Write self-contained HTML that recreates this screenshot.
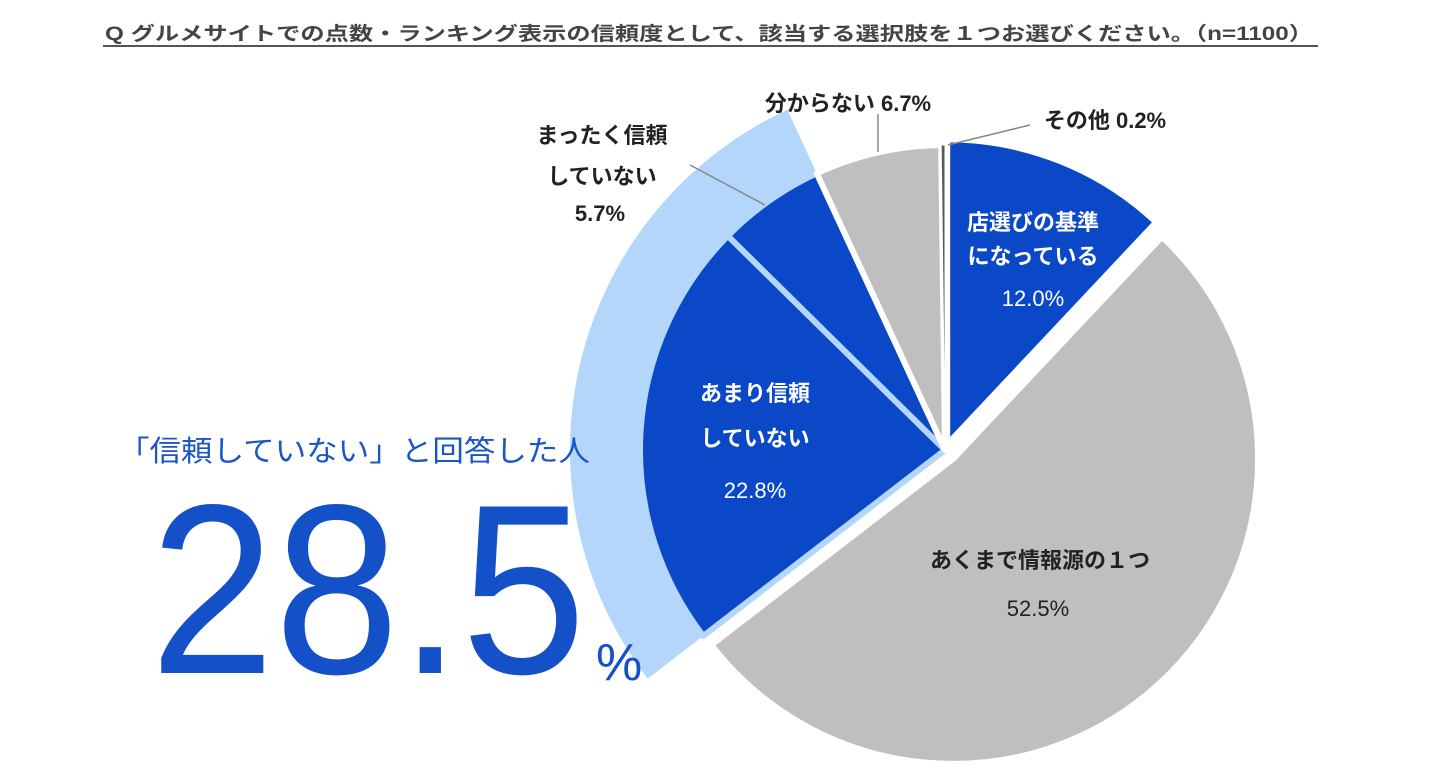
<!DOCTYPE html>
<html><head><meta charset="utf-8"><style>
html,body{margin:0;padding:0;background:#fff;width:1440px;height:772px;overflow:hidden}
svg{display:block}
text{font-family:"Liberation Sans","Noto Sans CJK JP",sans-serif}
</style></head><body>
<svg id="chart" width="1440" height="772" viewBox="0 0 1440 772">
<text x="105" y="40" font-size="19" font-weight="bold" fill="#444" textLength="1208" lengthAdjust="spacingAndGlyphs">Q グルメサイトでの点数・ランキング表示の信頼度として、該当する選択肢を１つお選びください。（n=1100）</text>
<line x1="103" y1="46" x2="1318" y2="46" stroke="#555" stroke-width="2"/>
<g id="band"></g>
<g id="slices"></g>
<g font-size="22" text-anchor="middle">
<text x="1033" y="230" fill="#fff" font-weight="bold">店選びの基準</text>
<text x="1033" y="264" fill="#fff" font-weight="bold">になっている</text>
<text x="1033" y="306" fill="#fff">12.0%</text>
<text x="1040" y="568" fill="#222" font-weight="bold">あくまで情報源の１つ</text>
<text x="1038" y="616" fill="#222">52.5%</text>
<text x="755" y="401" fill="#fff" font-weight="bold">あまり信頼</text>
<text x="755" y="446" fill="#fff" font-weight="bold">していない</text>
<text x="755" y="498" fill="#fff">22.8%</text>
<text x="602" y="143" fill="#222" font-weight="bold">まったく信頼</text>
<text x="602" y="184" fill="#222" font-weight="bold">していない</text>
<text x="600" y="221" fill="#222" font-weight="bold">5.7%</text>
<text x="848" y="111" fill="#222" font-weight="bold">分からない 6.7%</text>
<text x="1105" y="128" fill="#222" font-weight="bold">その他 0.2%</text>
</g>
<g stroke="#888" stroke-width="1.5">
<line x1="690" y1="165" x2="765" y2="205"/>
<line x1="878" y1="114" x2="878" y2="152"/>
<line x1="1030" y1="125" x2="948" y2="145"/>
</g>
<text x="118" y="461" font-size="29" fill="#1a56c4" textLength="472" lengthAdjust="spacingAndGlyphs">「信頼していない」と回答した人</text>
<text x="150" y="681" font-size="224" fill="#1450c8" textLength="436" lengthAdjust="spacingAndGlyphs" transform="translate(0,-62.5) scale(1,1.08)">28.5</text>
<text x="596" y="680" font-size="52" fill="#1450c8">%</text>
</svg>
<script>
const categories=["店選びの基準になっている","あくまで情報源の１つ","あまり信頼していない","まったく信頼していない","分からない","その他"];
const values=[12.0,52.5,22.8,5.7,6.7,0.2];
const colors=["#0b48c8","#bfbfbf","#0b48c8","#0b48c8","#bfbfbf","#595959"];
const explode=[6,12,0,0,0,0];
const bandIdx=[2,3];
const cx=945,cy=450,R=305,RB=375;
const total=values.reduce((a,b)=>a+b,0);
const ang=p=>p/total*2*Math.PI;
function pt(a,r,ox,oy){return [ox+r*Math.sin(a),oy-r*Math.cos(a)];}
function sector(a0,a1,r,ox,oy){const p0=pt(a0,r,ox,oy),p1=pt(a1,r,ox,oy);const lg=(a1-a0)>Math.PI?1:0;
return `M${ox},${oy}L${p0[0]},${p0[1]}A${r},${r} 0 ${lg} 1 ${p1[0]},${p1[1]}Z`;}
const NS="http://www.w3.org/2000/svg";
const starts=[];let c=0;values.forEach(v=>{starts.push(c);c+=v;});
const b0=ang(starts[bandIdx[0]]),b1=ang(starts[bandIdx[1]]+values[bandIdx[1]]);
const bp=document.createElementNS(NS,"path");


bp.setAttribute("d",sector(b0,b1,RB,cx,cy));bp.setAttribute("fill","#b4d6fb");
document.getElementById("band").appendChild(bp);
const g=document.getElementById("slices");
const order=[2,3,0,1,4,5];
order.forEach(i=>{
const a0=ang(starts[i]),a1=ang(starts[i]+values[i]),m=(a0+a1)/2;
const ox=cx+explode[i]*Math.sin(m),oy=cy-explode[i]*Math.cos(m);
const p=document.createElementNS(NS,"path");


p.setAttribute("d",sector(a0,a1,R,ox,oy));
p.setAttribute("fill",colors[i]);
p.setAttribute("stroke",bandIdx.includes(i)?"#b4d6fb":"#fff");
p.setAttribute("stroke-width",i===5?"1":"6");
p.setAttribute("stroke-linejoin","round");
g.appendChild(p);});
</script>
</body></html>
